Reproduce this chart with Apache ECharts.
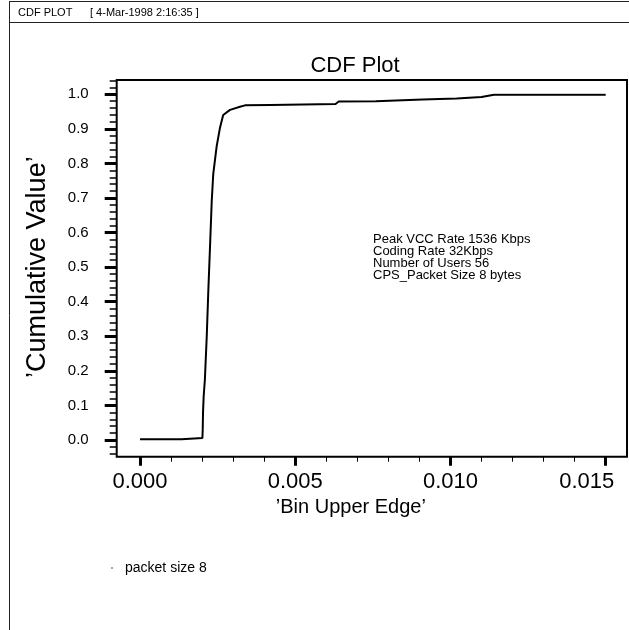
<!DOCTYPE html>
<html>
<head>
<meta charset="utf-8">
<script src="https://cdn.jsdelivr.net/npm/echarts@6/dist/echarts.min.js"></script>
<style>html,body{margin:0;padding:0;background:#fff;}#c{width:629px;height:630px;}</style>
</head>
<body>
<div id="c"></div>
<script>
// ---- data ----
const binEdges = [0, 0.00134, 0.00134, 0.00201, 0.00202, 0.00203, 0.00205, 0.00209, 0.00215, 0.0022, 0.00226, 0.00231, 0.00236, 0.00247, 0.00258, 0.00268, 0.0029, 0.00322, 0.00338, 0.0042, 0.0042, 0.0063, 0.0064, 0.0076, 0.0076, 0.0091, 0.0091, 0.0102, 0.0102, 0.011, 0.0114, 0.015];
const cumValues = [0.002, 0.002, 0.006, 0.006, 0.03, 0.08, 0.125, 0.175, 0.30, 0.43, 0.57, 0.69, 0.77, 0.85, 0.905, 0.94, 0.955, 0.964, 0.968, 0.969, 0.971, 0.972, 0.979, 0.980, 0.984, 0.985, 0.987, 0.988, 0.991, 0.992, 0.999, 0.999];
const xTicks = [0, 0.005, 0.010, 0.015];
const yTicks = [0, 0.1, 0.2, 0.3, 0.4, 0.5, 0.6, 0.7, 0.8, 0.9, 1.0];
const seriesName = 'packet size 8';
const annotationLines = ['Peak VCC Rate 1536 Kbps', 'Coding Rate 32Kbps', 'Number of Users 56', 'CPS_Packet Size 8 bytes'];

const FONT = 'Liberation Sans, Arial, sans-serif';
const chart = echarts.init(document.getElementById('c'), null, {renderer: 'canvas'});
const data = binEdges.map((x, i) => [x, cumValues[i]]);
const xMin = xTicks[0], xMax = xTicks[xTicks.length - 1];
const yMin = yTicks[0], yMax = yTicks[yTicks.length - 1];
const hiddenX = (g) => ({type: 'value', gridIndex: g, min: xMin, max: xMax, show: false});
const hiddenY = (g, mn, mx) => ({type: 'value', gridIndex: g, min: mn, max: mx, show: false});

chart.setOption({
  animation: false,
  textStyle: {fontFamily: FONT, color: '#000'},
  title: {
    text: 'CDF Plot', left: 350, top: 50, textAlign: 'center',
    textStyle: {fontSize: 22, fontWeight: 'normal', color: '#000', fontFamily: FONT}
  },
  legend: {
    data: [seriesName], left: 106, top: 556, icon: 'circle', itemWidth: 16, itemHeight: 2,
    itemStyle: {color: '#888'},
    textStyle: {fontSize: 14, color: '#000', fontFamily: FONT}
  },
  grid: [
    {left: 140, right: 23.3, top: 94.3, bottom: 190},      // data
    {left: 140, right: 23.3, top: 94.3, bottom: 173.3},    // x axis ticks/labels
    {left: 116.7, right: 23.3, top: 94.3, bottom: 190},    // y major ticks/labels
    {left: 116.7, right: 23.3, top: 80.47, bottom: 176.17} // y minor ticks
  ],
  xAxis: [
    hiddenX(0),
    {
      type: 'value', gridIndex: 1, min: xMin, max: xMax, interval: 0.005,
      axisLine: {show: false},
      axisTick: {show: true, length: 9, lineStyle: {color: '#000', width: 3}},
      minorTick: {show: true, splitNumber: 5, length: 5, lineStyle: {color: '#000', width: 1}},
      splitLine: {show: false}, minorSplitLine: {show: false},
      axisLabel: {
        fontSize: 22, margin: 14, color: '#000', fontFamily: FONT,
        formatter: v => Math.abs(v - xMax) < 1e-9 ? '{last|' + v.toFixed(3) + '}' : v.toFixed(3),
        rich: {last: {fontSize: 22, color: '#000', fontFamily: FONT, padding: [0, 38, 0, 0]}}
      },
      name: '’Bin Upper Edge’', nameLocation: 'middle', nameGap: 38,
      nameTextStyle: {fontSize: 20, color: '#000', fontFamily: FONT, padding: [0, 44, 0, 0]}
    },
    hiddenX(2),
    hiddenX(3)
  ],
  yAxis: [
    hiddenY(0, yMin, yMax),
    hiddenY(1, yMin, yMax),
    {
      type: 'value', gridIndex: 2, min: yMin, max: yMax, interval: 0.1,
      axisLine: {show: false},
      axisTick: {show: true, length: 12, lineStyle: {color: '#000', width: 3}},
      splitLine: {show: false},
      axisLabel: {fontSize: 15, margin: 28, color: '#000', fontFamily: FONT, formatter: v => v.toFixed(1)},
      name: '’Cumulative Value’', nameLocation: 'middle', nameGap: 66,
      nameTextStyle: {fontSize: 27, color: '#000', fontFamily: FONT}
    },
    {
      type: 'value', gridIndex: 3, min: -0.04, max: 1.04, interval: 0.02,
      axisLine: {show: false},
      axisTick: {show: true, length: 7, lineStyle: {color: '#000', width: 1.5}},
      axisLabel: {show: false}, splitLine: {show: false}
    }
  ],
  series: [{
    name: seriesName, type: 'line', xAxisIndex: 0, yAxisIndex: 0, data: data,
    showSymbol: false, symbol: 'none', lineStyle: {color: '#000', width: 2}, itemStyle: {color: '#888'}
  }],
  graphic: [
    {type: 'rect', shape: {x: 116.7, y: 80, width: 510.3, height: 376.7}, style: {fill: 'none', stroke: '#000', lineWidth: 2}, silent: true},
    {type: 'line', shape: {x1: 9.5, y1: 1, x2: 9.5, y2: 630}, style: {stroke: '#222', lineWidth: 1}, silent: true},
    {type: 'line', shape: {x1: 9, y1: 1.5, x2: 629, y2: 1.5}, style: {stroke: '#222', lineWidth: 1}, silent: true},
    {type: 'line', shape: {x1: 9, y1: 22.5, x2: 629, y2: 22.5}, style: {stroke: '#222', lineWidth: 1}, silent: true},
    {type: 'text', left: 18, top: 7, style: {text: 'CDF PLOT', fontSize: 11, fill: '#000', fontFamily: FONT}, silent: true},
    {type: 'text', left: 90, top: 7, style: {text: '[ 4-Mar-1998 2:16:35 ]', fontSize: 11, fill: '#000', fontFamily: FONT}, silent: true},
    {type: 'text', left: 373, top: 233, style: {text: annotationLines.join('\n'), fontSize: 13, lineHeight: 12, fill: '#000', fontFamily: FONT}, silent: true}
  ]
});
</script>
</body>
</html>
